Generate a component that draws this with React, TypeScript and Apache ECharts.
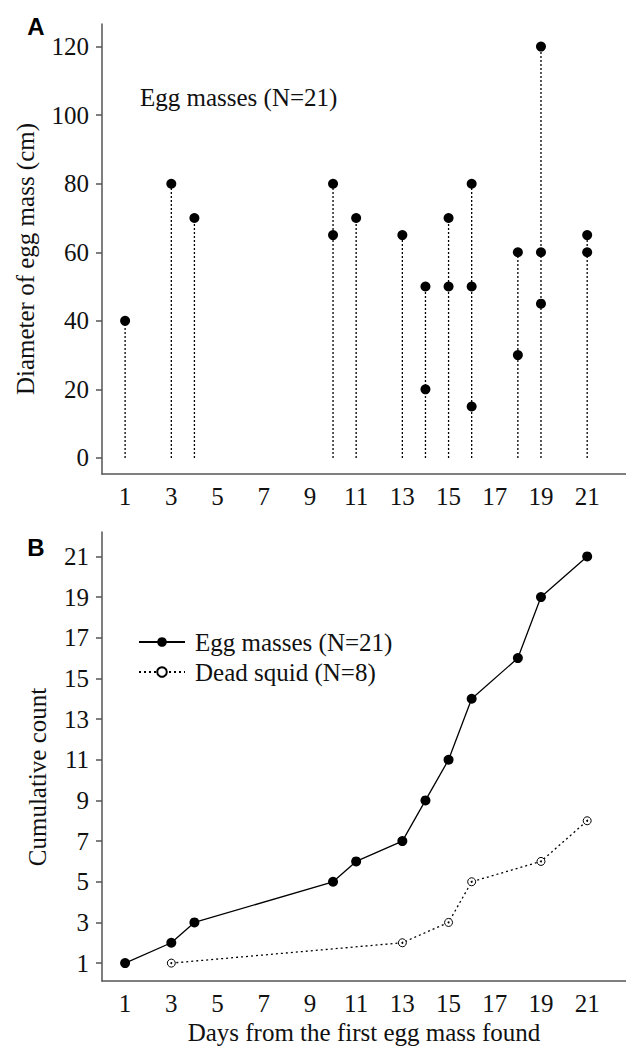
import React, { useEffect, useRef } from "react";
import * as echarts from "echarts";

// Panel A: individual egg masses (day found, diameter in cm)
const eggDays = [1, 3, 4, 10, 10, 11, 13, 14, 14, 15, 15, 16, 16, 16, 18, 18, 19, 19, 19, 21, 21];
const eggDiameters = [40, 80, 70, 80, 65, 70, 65, 50, 20, 70, 50, 80, 50, 15, 60, 30, 120, 60, 45, 65, 60];

// Panel B: cumulative counts
const cumEggDays = [1, 3, 4, 10, 11, 13, 14, 15, 16, 18, 19, 21];
const cumEggCounts = [1, 2, 3, 5, 6, 7, 9, 11, 14, 16, 19, 21];
const squidDays = [3, 13, 15, 16, 19, 21];
const cumSquidCounts = [1, 2, 3, 5, 6, 8];

// Tick labels
const xTicks = [1, 3, 5, 7, 9, 11, 13, 15, 17, 19, 21];
const yTicksA = [0, 20, 40, 60, 80, 100, 120];
const yTicksB = [1, 3, 5, 7, 9, 11, 13, 15, 17, 19, 21];

const eggName = "Egg masses (N=21)";
const squidName = "Dead squid (N=8)";

export default function App() {
  const ref = useRef<HTMLDivElement>(null);

  useEffect(() => {
    const chart = echarts.init(ref.current!, null, { renderer: "svg" });
    const serif = "'Liberation Serif', 'Times New Roman', serif";
    const sans = "'Liberation Sans', Arial, sans-serif";
    const textColor = "#111";
    const axisColor = "#555";

    const stemMax: Record<number, number> = {};
    eggDays.forEach((d, i) => {
      stemMax[d] = Math.max(stemMax[d] ?? 0, eggDiameters[i]);
    });
    const stemData = Object.keys(stemMax).map((k) => [Number(k), stemMax[Number(k)]]);

    const labelStyle = { fontSize: 25, fontFamily: serif, color: textColor };

    const xAxisBase = (gridIndex: number) => ({
      type: "value",
      gridIndex,
      min: 0,
      max: 22.68,
      axisLine: { show: true, onZero: false, lineStyle: { color: axisColor, width: 1.5 } },
      axisTick: { show: false },
      axisLabel: { ...labelStyle, margin: 10, customValues: xTicks, hideOverlap: false },
      splitLine: { show: false },
    });

    const centred = {
      align: "center",
      verticalAlign: "middle",
      textAlign: "center",
      textVerticalAlign: "middle",
    };

    chart.setOption({
      animation: false,
      backgroundColor: "#fff",
      grid: [
        { left: 102, top: 24, width: 524, height: 450, outerBoundsMode: "none", containLabel: false },
        { left: 102, top: 532, width: 524, height: 449, outerBoundsMode: "none", containLabel: false },
      ],
      xAxis: [
        xAxisBase(0),
        {
          ...xAxisBase(1),
          name: "Days from the first egg mass found",
          nameLocation: "middle",
          nameGap: 39,
          nameTextStyle: { fontSize: 25, fontFamily: serif, color: textColor },
        },
      ],
      yAxis: [
        {
          type: "value",
          gridIndex: 0,
          min: -4.7,
          max: 126.6,
          axisLine: { show: true, onZero: false, lineStyle: { color: axisColor, width: 1.5 } },
          axisTick: { show: true, length: 6, customValues: yTicksA, lineStyle: { color: axisColor, width: 1.5 } },
          axisLabel: { ...labelStyle, margin: 13, customValues: yTicksA, hideOverlap: false },
          splitLine: { show: false },
        },
        {
          type: "value",
          gridIndex: 1,
          min: 0.12,
          max: 22.2,
          axisLine: { show: true, onZero: false, lineStyle: { color: axisColor, width: 1.5 } },
          axisTick: { show: true, length: 6, customValues: yTicksB, lineStyle: { color: axisColor, width: 1.5 } },
          axisLabel: { ...labelStyle, margin: 13, customValues: yTicksB, hideOverlap: false },
          splitLine: { show: false },
        },
      ],
      legend: {
        data: [eggName, squidName],
        orient: "vertical",
        left: 138,
        top: 629,
        itemWidth: 46,
        itemHeight: 12,
        itemGap: 4,
        padding: 0,
        selectedMode: false,
        textStyle: { fontSize: 25, fontFamily: serif, color: textColor, lineHeight: 26, padding: [0, 0, 0, 5] },
      },
      series: [
        {
          type: "custom",
          xAxisIndex: 0,
          yAxisIndex: 0,
          data: stemData,
          silent: true,
          z: 1,
          renderItem: (params: any, api: any) => {
            const top = api.coord([api.value(0), api.value(1)]);
            const bot = api.coord([api.value(0), 0]);
            return {
              type: "line",
              shape: { x1: bot[0], y1: bot[1], x2: top[0], y2: top[1] },
              style: { stroke: "#000", lineWidth: 1.3, lineDash: [2, 2] },
            };
          },
        },
        {
          type: "scatter",
          name: "Egg diameters",
          xAxisIndex: 0,
          yAxisIndex: 0,
          data: eggDays.map((d, i) => [d, eggDiameters[i]]),
          symbol: "circle",
          symbolSize: 10,
          itemStyle: { color: "#000", opacity: 1 },
          z: 2,
        },
        {
          type: "line",
          name: eggName,
          xAxisIndex: 1,
          yAxisIndex: 1,
          data: cumEggDays.map((d, i) => [d, cumEggCounts[i]]),
          symbol: "circle",
          symbolSize: 10,
          showSymbol: true,
          itemStyle: { color: "#000", opacity: 1 },
          lineStyle: { color: "#000", width: 1.3, type: "solid" },
          z: 3,
        },
        {
          type: "line",
          name: squidName,
          xAxisIndex: 1,
          yAxisIndex: 1,
          data: squidDays.map((d, i) => [d, cumSquidCounts[i]]),
          symbol: "circle",
          symbolSize: 8,
          showSymbol: true,
          itemStyle: { color: "#fff", borderColor: "#000", borderWidth: 1, opacity: 1 },
          lineStyle: { color: "#000", width: 1.3, type: [2, 3] },
          z: 3,
        },
        {
          type: "scatter",
          name: "squid-centre",
          xAxisIndex: 1,
          yAxisIndex: 1,
          data: squidDays.map((d, i) => [d, cumSquidCounts[i]]),
          symbol: "circle",
          symbolSize: 2,
          itemStyle: { color: "#000", opacity: 1 },
          silent: true,
          z: 4,
        },
      ],
      graphic: [
        {
          type: "text",
          x: 36,
          y: 26,
          style: { text: "A", font: `bold 24px ${sans}`, fill: "#000", ...centred },
        },
        {
          type: "text",
          x: 36,
          y: 547,
          style: { text: "B", font: `bold 24px ${sans}`, fill: "#000", ...centred },
        },
        {
          type: "text",
          x: 140,
          y: 97,
          style: {
            text: eggName,
            font: `25px ${serif}`,
            fill: textColor,
            align: "left",
            verticalAlign: "middle",
            textAlign: "left",
            textVerticalAlign: "middle",
          },
        },
        {
          type: "text",
          x: 25,
          y: 259,
          rotation: Math.PI / 2,
          style: { text: "Diameter of egg mass (cm)", font: `25px ${serif}`, fill: textColor, ...centred },
        },
        {
          type: "text",
          x: 37,
          y: 777,
          rotation: Math.PI / 2,
          style: { text: "Cumulative count", font: `25px ${serif}`, fill: textColor, ...centred },
        },
      ],
    });

    return () => chart.dispose();
  }, []);

  return (
    <div
      ref={ref}
      style={{ position: "absolute", left: 0, top: 0, width: 626, height: 1048, background: "#fff" }}
    />
  );
}
